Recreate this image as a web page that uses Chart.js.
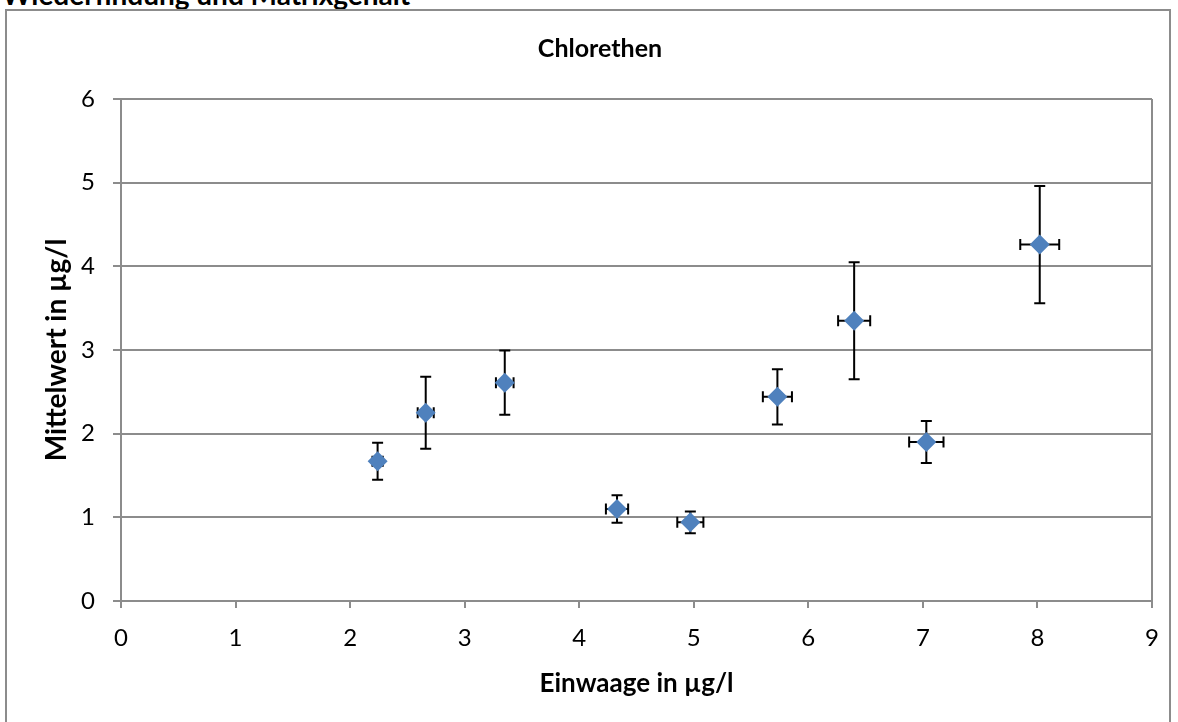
<!DOCTYPE html>
<html>
<head>
<meta charset="utf-8">
<script src="https://cdn.jsdelivr.net/npm/chart.js@4.4.1/dist/chart.umd.min.js"></script>
<style>
  html, body { margin: 0; padding: 0; background: #fff; overflow: hidden; }
  #wrap { position: relative; width: 1178px; height: 722px; }
  #heading {
    position: absolute; left: 2px; top: -20px;
    font: bold 28px Lato, sans-serif; line-height: 1; color: #000; white-space: nowrap;
  }
  #frame {
    position: absolute; left: 5px; top: 9px; width: 1166px; height: 720px;
    border: 2px solid #8c8c8c; box-sizing: border-box;
  }
  canvas { position: absolute; left: 0; top: 0; }
</style>
</head>
<body>
<div id="wrap">
  <div id="heading">Wiederfindung und Matrixgehalt</div>
  <div id="frame"></div>
  <canvas id="chart" width="1178" height="722"></canvas>
</div>
<script>
const chartTitle = "Chlorethen";
const xTitle = "Einwaage in µg/l";
const yTitle = "Mittelwert in µg/l";

const einwaage = [2.24, 2.66, 3.35, 4.33, 4.97, 5.73, 6.40, 7.03, 8.02];
const mittelwert = [1.67, 2.25, 2.61, 1.10, 0.94, 2.44, 3.35, 1.90, 4.26];
const yFehler = [0.22, 0.43, 0.385, 0.165, 0.13, 0.33, 0.70, 0.25, 0.70];
const xFehler = [0.045, 0.07, 0.077, 0.097, 0.114, 0.127, 0.14, 0.15, 0.17];

const xMin = 0, xMax = 9;
const yMin = 0, yMax = 6;

const GRID = "#8c8c8c";
const FONT = "Lato, 'Open Sans', sans-serif";

// error bars drawn under the markers
const errorBars = {
    id: "errorBars",
    beforeDatasetsDraw(chart) {
        const { ctx, scales: { x, y } } = chart;
        const cap = 5.5;
        ctx.save();
        ctx.strokeStyle = "#000";
        ctx.lineWidth = 2;
        einwaage.forEach((xv, i) => {
            const px = x.getPixelForValue(xv);
            const py = y.getPixelForValue(mittelwert[i]);
            const yTop = y.getPixelForValue(mittelwert[i] + yFehler[i]);
            const yBot = y.getPixelForValue(mittelwert[i] - yFehler[i]);
            const xL = x.getPixelForValue(xv - xFehler[i]);
            const xR = x.getPixelForValue(xv + xFehler[i]);
            ctx.beginPath();
            ctx.moveTo(px, yTop); ctx.lineTo(px, yBot);
            ctx.moveTo(px - cap, yTop); ctx.lineTo(px + cap, yTop);
            ctx.moveTo(px - cap, yBot); ctx.lineTo(px + cap, yBot);
            ctx.moveTo(xL, py); ctx.lineTo(xR, py);
            ctx.moveTo(xL, py - cap); ctx.lineTo(xL, py + cap);
            ctx.moveTo(xR, py - cap); ctx.lineTo(xR, py + cap);
            ctx.stroke();
        });
        ctx.restore();
    }
};

const points = einwaage.map((xv, i) => ({ x: xv, y: mittelwert[i] }));

new Chart(document.getElementById("chart"), {
    type: "scatter",
    data: {
        datasets: [{
            data: points,
            pointStyle: "rectRot",
            pointRadius: 10,
            pointHoverRadius: 10,
            backgroundColor: "#4f81bd",
            borderColor: "#4f81bd",
            borderWidth: 0,
        }],
    },
    options: {
        responsive: false,
        animation: false,
        events: [],
        // left padding shifts the centred title over the whole frame
        layout: { padding: { top: 0, right: 26, bottom: 0, left: 48 } },
        plugins: {
            legend: { display: false },
            tooltip: { enabled: false },
            title: {
                display: true,
                text: chartTitle,
                color: "#000",
                font: { family: FONT, size: 25, weight: "bold" },
                padding: { top: 34, bottom: 35 },
            },
        },
        scales: {
            x: {
                type: "linear",
                min: xMin, max: xMax,
                ticks: {
                    stepSize: 1, color: "#000", padding: 16,
                    font: { family: FONT, size: 24 },
                },
                grid: {
                    color: ctx => (ctx.tick && ctx.tick.value === xMax) ? GRID : "rgba(0,0,0,0)",
                    lineWidth: 2,
                    tickColor: GRID, tickWidth: 2, tickLength: 7,
                },
                border: { color: GRID, width: 2 },
                title: {
                    display: true, text: xTitle, color: "#000",
                    font: { family: FONT, size: 26, weight: "bold" },
                    padding: { top: 0, bottom: 23 },
                },
                afterFit(scale) { scale.height = 121; },
            },
            y: {
                type: "linear",
                min: yMin, max: yMax,
                ticks: {
                    stepSize: 1, color: "#000", padding: 18,
                    font: { family: FONT, size: 24 },
                },
                grid: {
                    color: GRID, lineWidth: 2,
                    tickColor: GRID, tickWidth: 2, tickLength: 8,
                },
                border: { color: GRID, width: 2 },
                title: {
                    display: true, text: yTitle, color: "#000",
                    font: { family: FONT, size: 28, weight: "bold" },
                    padding: { top: -8, bottom: 0 },
                },
                afterFit(scale) { scale.width = 73; },
            },
        },
    },
    plugins: [errorBars],
});
</script>
</body>
</html>
